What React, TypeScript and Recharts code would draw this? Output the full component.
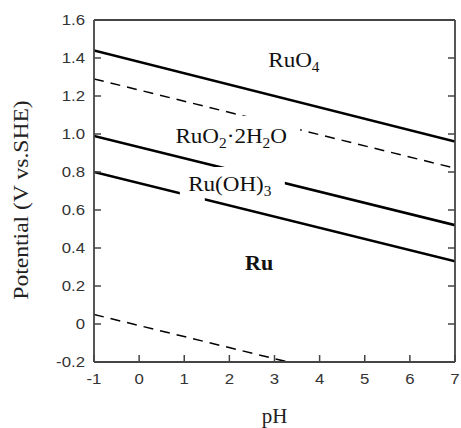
import React from 'react';
import { LineChart, Line, XAxis, YAxis, ReferenceDot } from 'recharts';

// pH axis ends and tick values
const phEnds = [-1, 7];
const phTicks = [-1, 0, 1, 2, 3, 4, 5, 6, 7];
const potentialTicks = [-0.2, 0, 0.2, 0.4, 0.6, 0.8, 1.0, 1.2, 1.4, 1.6];

// boundary lines (potential at pH -1 and pH 7)
const ruo4Boundary = [1.44, 0.96];
const oxygenLine = [1.29, 0.82];
const ruo2Boundary = [0.99, 0.52];
const ruoh3Boundary = [0.8, 0.33];

// hydrogen line runs out of the frame near pH 3.3
const hydrogenPh = [-1, 3.3];
const hydrogenLine = [0.05, -0.2];

// region labels: [pH, potential]
const ruo4Pos = [3.43, 1.353];
const ruo2Pos = [2.04, 0.953];
const ruoh3Pos = [2.01, 0.7];
const ruPos = [2.66, 0.284];

const toRows = (xs: number[], ys: number[]) => xs.map((x, i) => ({ ph: x, v: ys[i] }));

const serif = '"Liberation Serif", "DejaVu Serif", serif';
const sans = '"Liberation Sans", Arial, sans-serif';
const axisColor = '#444';
const TICK_LEN = 7;
const X_GAP = 11;
const Y_GAP = 9;

// tick marks point into the plot, drawn by hand next to the labels
const XTick = (props: any) => {
    const { x, y, payload } = props;
    const axisY = y - X_GAP;
    return (
        <g>
            <line x1={x} x2={x} y1={axisY} y2={axisY - TICK_LEN} stroke={axisColor} strokeWidth={1.5} />
            <text
                transform={`translate(${x},${y}) scale(1.12,1)`}
                textAnchor="middle"
                dy="0.72em"
                fontFamily={sans}
                fontSize={15}
                fill="#333"
            >
                {payload.value}
            </text>
        </g>
    );
};

const YTick = (props: any) => {
    const { x, y, payload } = props;
    const v = Number(payload.value);
    const label = Math.abs(v) < 1e-9 ? '0' : v.toFixed(1);
    const axisX = x + Y_GAP;
    return (
        <g>
            <line x1={axisX} x2={axisX + TICK_LEN} y1={y} y2={y} stroke={axisColor} strokeWidth={1.5} />
            <text
                transform={`translate(${x},${y}) scale(1.12,1)`}
                textAnchor="end"
                dy="0.36em"
                fontFamily={sans}
                fontSize={15}
                fill="#333"
            >
                {label}
            </text>
        </g>
    );
};

const TopTick = (props: any) => {
    const { x, y } = props;
    return <line x1={x} x2={x} y1={y} y2={y + TICK_LEN} stroke={axisColor} strokeWidth={1.5} />;
};

const RightTick = (props: any) => {
    const { x, y } = props;
    return <line x1={x} x2={x - TICK_LEN} y1={y} y2={y} stroke={axisColor} strokeWidth={1.5} />;
};

type Mask = [number, number, number, number];

const regionLabel = (content: React.ReactNode, masks: Mask[], bold = false) => (props: any) => {
    const { cx, cy } = props;
    return (
        <g>
            {masks.map((m, i) => (
                <rect key={i} x={cx + m[0]} y={cy + m[1]} width={m[2]} height={m[3]} fill="#fff" />
            ))}
            <text
                transform={`translate(${cx},${cy}) scale(1.1,1)`}
                textAnchor="middle"
                fontFamily={serif}
                fontSize={bold ? 20 : 21}
                fontWeight={bold ? 'bold' : 'normal'}
                fill="#111"
            >
                {content}
            </text>
        </g>
    );
};

const sub = (s: string, after: string) => [
    <tspan key={s + 'a'} fontSize={14} dy={5}>{s}</tspan>,
    <tspan key={s + 'b'} dy={-5}>{after}</tspan>,
];

export default function App() {
    return (
        <div style={{ position: 'absolute', left: 0, top: 0, width: 461, height: 428, background: '#fff' }}>
            <LineChart width={461} height={428} margin={{ top: 0, right: 0, bottom: 0, left: 0 }}>
                <XAxis
                    xAxisId="b"
                    type="number"
                    dataKey="ph"
                    domain={[-1, 7]}
                    ticks={phTicks}
                    height={66}
                    tickSize={0}
                    tickMargin={X_GAP}
                    tickLine={false}
                    tick={XTick}
                    axisLine={{ stroke: axisColor, strokeWidth: 1.8 }}
                    allowDataOverflow
                    label={(p: any) => {
                        const vb = p.viewBox;
                        return (
                            <text
                                transform={`translate(${vb.x + vb.width / 2},${423}) scale(1.05,1)`}
                                textAnchor="middle"
                                fontFamily={serif}
                                fontSize={20}
                                fill="#222"
                            >
                                pH
                            </text>
                        );
                    }}
                />
                <XAxis
                    xAxisId="t"
                    orientation="top"
                    type="number"
                    domain={[-1, 7]}
                    ticks={phTicks.slice(1, -1)}
                    height={20}
                    tickSize={0}
                    tickMargin={0}
                    tickLine={false}
                    tick={TopTick}
                    axisLine={{ stroke: axisColor, strokeWidth: 1.8 }}
                    allowDataOverflow
                />
                <YAxis
                    yAxisId="l"
                    type="number"
                    domain={[-0.2, 1.6]}
                    ticks={potentialTicks}
                    width={94}
                    tickSize={0}
                    tickMargin={Y_GAP}
                    tickLine={false}
                    tick={YTick}
                    axisLine={{ stroke: axisColor, strokeWidth: 1.8 }}
                    allowDataOverflow
                    label={(p: any) => {
                        const vb = p.viewBox;
                        return (
                            <text
                                transform={`translate(28,${vb.y + vb.height / 2 + 9}) rotate(-90) scale(1.18,1)`}
                                textAnchor="middle"
                                fontFamily={serif}
                                fontSize={20}
                                fill="#222"
                            >
                                Potential (V vs.SHE)
                            </text>
                        );
                    }}
                />
                <YAxis
                    yAxisId="r"
                    orientation="right"
                    type="number"
                    domain={[-0.2, 1.6]}
                    ticks={potentialTicks.slice(1, -1)}
                    width={6}
                    tickSize={0}
                    tickMargin={0}
                    tickLine={false}
                    tick={RightTick}
                    axisLine={{ stroke: axisColor, strokeWidth: 1.8 }}
                    allowDataOverflow
                />

                <Line xAxisId="b" yAxisId="l" data={toRows(phEnds, ruo4Boundary)} dataKey="v" stroke="#000" strokeWidth={2.6} dot={false} isAnimationActive={false} />
                <Line xAxisId="b" yAxisId="l" data={toRows(phEnds, oxygenLine)} dataKey="v" stroke="#000" strokeWidth={1.5} strokeDasharray="10 7" dot={false} isAnimationActive={false} />
                <Line xAxisId="b" yAxisId="l" data={toRows(phEnds, ruo2Boundary)} dataKey="v" stroke="#000" strokeWidth={2.6} dot={false} isAnimationActive={false} />
                <Line xAxisId="b" yAxisId="l" data={toRows(phEnds, ruoh3Boundary)} dataKey="v" stroke="#000" strokeWidth={2.6} dot={false} isAnimationActive={false} />
                <Line xAxisId="b" yAxisId="l" data={toRows(hydrogenPh, hydrogenLine)} dataKey="v" stroke="#000" strokeWidth={1.5} strokeDasharray="10 7" dot={false} isAnimationActive={false} />

                <ReferenceDot xAxisId="b" yAxisId="l" x={ruo4Pos[0]} y={ruo4Pos[1]} r={0}
                    shape={regionLabel(['RuO', ...sub('4', '')], [])} />
                <ReferenceDot xAxisId="b" yAxisId="l" x={ruo2Pos[0]} y={ruo2Pos[1]} r={0}
                    shape={regionLabel(['RuO', ...sub('2', '·2H'), <tspan key="s2" fontSize={14} dy={5}>2</tspan>, <tspan key="o" dy={-5}>O</tspan>], [[-59, -27, 128, 34]])} />
                <ReferenceDot xAxisId="b" yAxisId="l" x={ruoh3Pos[0]} y={ruoh3Pos[1]} r={0}
                    shape={regionLabel(['Ru(OH)', ...sub('3', '')], [[-48, -24, 103, 30], [-50, -6, 25, 18]])} />
                <ReferenceDot xAxisId="b" yAxisId="l" x={ruPos[0]} y={ruPos[1]} r={0}
                    shape={regionLabel('Ru', [], true)} />
            </LineChart>
        </div>
    );
}
